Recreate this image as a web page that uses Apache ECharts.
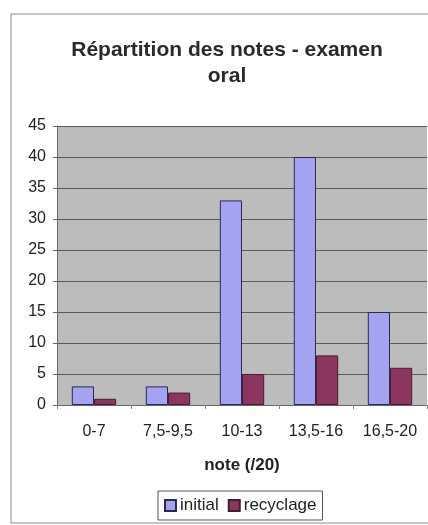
<!DOCTYPE html>
<html><head><meta charset="utf-8">
<script src="https://cdn.jsdelivr.net/npm/echarts@6/dist/echarts.min.js"></script>
<style>html,body{margin:0;padding:0;background:#fff}#c{width:428px;height:525px}</style>
</head><body><div id="c"></div>
<script>
const categories = ['0-7', '7,5-9,5', '10-13', '13,5-16', '16,5-20'];
const initial = [3, 3, 33, 40, 15];
const recyclage = [1, 2, 5, 8, 6];
const yTicks = [0, 5, 10, 15, 20, 25, 30, 35, 40, 45];

const chart = echarts.init(document.getElementById('c'));
const font = 'Liberation Sans, Arial, sans-serif';
chart.setOption({
  animation: false,
  backgroundColor: '#fff',
  graphic: [{
    type: 'rect', shape: {x: 11, y: 14, width: 440, height: 509},
    style: {fill: 'none', stroke: '#8a8a8a', lineWidth: 1}, z: -10
  }],
  title: {
    text: 'Répartition des notes - examen\noral',
    left: 222, top: 32, textAlign: 'center',
    textStyle: {fontFamily: font, fontSize: 21, fontWeight: 'bold', color: '#2a2a2a', lineHeight: 26}
  },
  legend: {
    data: ['initial', 'recyclage'],
    left: 158, top: 491,
    itemWidth: 11, itemHeight: 11, itemGap: 9,
    borderColor: '#555', borderWidth: 1, padding: [6, 6, 6, 6],
    textStyle: {fontFamily: font, fontSize: 17, color: '#222', padding: [0, 0, 0, -1]},
    icon: 'rect'
  },
  grid: {
    left: 57, right: 1, top: 126, bottom: 120,
    show: true, backgroundColor: '#bcbcbc', borderWidth: 0
  },
  xAxis: {
    type: 'category', data: categories,
    name: 'note (/20)', nameLocation: 'middle', nameGap: 52,
    nameTextStyle: {fontFamily: font, fontSize: 17, fontWeight: 'bold', color: '#222'},
    axisLine: {lineStyle: {color: '#666'}},
    axisTick: {show: true, length: 4, lineStyle: {color: '#888'}},
    axisLabel: {fontFamily: font, fontSize: 16, color: '#222', margin: 19}
  },
  yAxis: {
    type: 'value', min: 0, max: 45, interval: 5,
    axisLine: {show: true, lineStyle: {color: '#666'}},
    axisTick: {show: true, length: 4, lineStyle: {color: '#666'}},
    axisLabel: {fontFamily: font, fontSize: 16, color: '#222', margin: 11,
      formatter: v => yTicks.includes(v) ? String(v) : ''},
    splitLine: {show: true, lineStyle: {color: '#5a5a5a', width: 1}}
  },
  series: [
    {name: 'initial', type: 'bar', data: initial, barGap: '0%', barCategoryGap: '40%',
     itemStyle: {color: '#a3a3f2', borderColor: '#2a2a50', borderWidth: 1}},
    {name: 'recyclage', type: 'bar', data: recyclage,
     itemStyle: {color: '#8c355f', borderColor: '#4a1a30', borderWidth: 1}}
  ]
});
</script></body></html>
